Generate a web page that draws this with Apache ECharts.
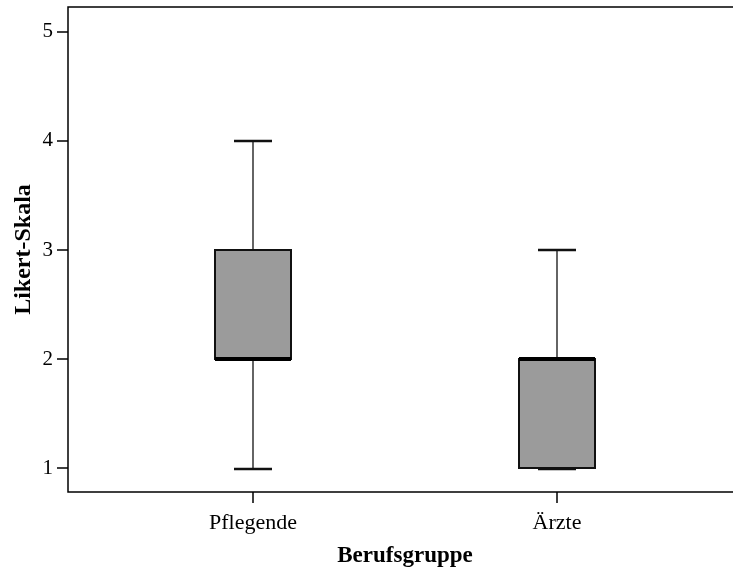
<!DOCTYPE html>
<html>
<head>
<meta charset="utf-8">
<script src="https://cdn.jsdelivr.net/npm/echarts@6/dist/echarts.min.js"></script>
<style>html,body{margin:0;padding:0;background:#fff}#c{width:733px;height:569px}</style>
</head>
<body>
<div id="c"></div>
<script>
var categories = ['Pflegende', 'Ärzte'];
var minVals = [1, 1];
var q1Vals = [2, 1];
var medianVals = [2, 2];
var q3Vals = [3, 2];
var maxVals = [4, 3];
var yTicks = [1, 2, 3, 4, 5];
var yMin = 0.78, yMax = 5.229;

var data = categories.map(function (c, i) {
  return [i, minVals[i], q1Vals[i], medianVals[i], q3Vals[i], maxVals[i]];
});

var FONT = 'Liberation Serif';
var chart = echarts.init(document.getElementById('c'));
chart.setOption({
  animation: false,
  grid: [
    { left: 68, width: 690, top: 7, height: 485, outerBoundsMode: 'none', containLabel: false,
      show: true, borderColor: '#000', borderWidth: 1.5, backgroundColor: 'transparent' },
    { left: 101, width: 608, top: 7, height: 485, outerBoundsMode: 'none', containLabel: false }
  ],
  xAxis: [
    { gridIndex: 0, type: 'value', min: 0, max: 1, show: false },
    {
      gridIndex: 1, type: 'category', data: categories,
      axisLine: { show: false },
      axisTick: { show: true, alignWithLabel: true, length: 11, lineStyle: { color: '#000', width: 1.5 } },
      axisLabel: { margin: 20, fontFamily: FONT, fontSize: 22, color: '#000' },
      name: 'Berufsgruppe', nameLocation: 'middle', nameGap: 53, nameMoveOverlap: false,
      nameTextStyle: { fontFamily: FONT, fontWeight: 'bold', fontSize: 23, color: '#000' }
    }
  ],
  yAxis: [
    {
      gridIndex: 0, type: 'value', min: yMin, max: yMax,
      splitLine: { show: false },
      axisLine: { show: false },
      axisTick: { show: true, customValues: yTicks, length: 11, lineStyle: { color: '#000', width: 1.5 } },
      axisLabel: { customValues: yTicks, margin: 15, fontFamily: FONT, fontSize: 21, color: '#000' },
      name: 'Likert-Skala', nameLocation: 'middle', nameGap: 32, nameRotate: 90, nameMoveOverlap: false,
      nameTextStyle: { fontFamily: FONT, fontWeight: 'bold', fontSize: 24, color: '#000' }
    },
    { gridIndex: 1, type: 'value', min: yMin, max: yMax, show: false, splitLine: { show: false } }
  ],
  series: [{
    type: 'custom',
    xAxisIndex: 1, yAxisIndex: 1,
    data: data,
    encode: { x: 0, y: [1, 2, 3, 4, 5] },
    renderItem: function (params, api) {
      var x = api.value(0);
      var band = api.size([1, 0])[0];
      var half = band * 0.125;
      var capHalf = band * 0.0625;
      var pMin = api.coord([x, api.value(1)]);
      var pQ1 = api.coord([x, api.value(2)]);
      var pMed = api.coord([x, api.value(3)]);
      var pQ3 = api.coord([x, api.value(4)]);
      var pMax = api.coord([x, api.value(5)]);
      var cx = pMed[0];
      var wStyle = { stroke: '#111', lineWidth: 1.3 };
      var capStyle = { stroke: '#111', lineWidth: 2.5 };
      return {
        type: 'group',
        children: [
          { type: 'line', shape: { x1: cx, y1: pMax[1], x2: cx, y2: pQ3[1] }, style: wStyle },
          { type: 'line', shape: { x1: cx, y1: pQ1[1], x2: cx, y2: pMin[1] }, style: wStyle },
          { type: 'line', shape: { x1: cx - capHalf, y1: pMax[1], x2: cx + capHalf, y2: pMax[1] }, style: capStyle },
          { type: 'line', shape: { x1: cx - capHalf, y1: pMin[1] + 1, x2: cx + capHalf, y2: pMin[1] + 1 }, style: capStyle },
          { type: 'rect', shape: { x: cx - half, y: pQ3[1], width: half * 2, height: pQ1[1] - pQ3[1] },
            style: { fill: '#9b9b9b', stroke: '#111', lineWidth: 2 } },
          { type: 'line', shape: { x1: cx - half, y1: pMed[1], x2: cx + half, y2: pMed[1] }, style: { stroke: '#000', lineWidth: 4 } }
        ]
      };
    }
  }]
});
</script>
</body>
</html>
